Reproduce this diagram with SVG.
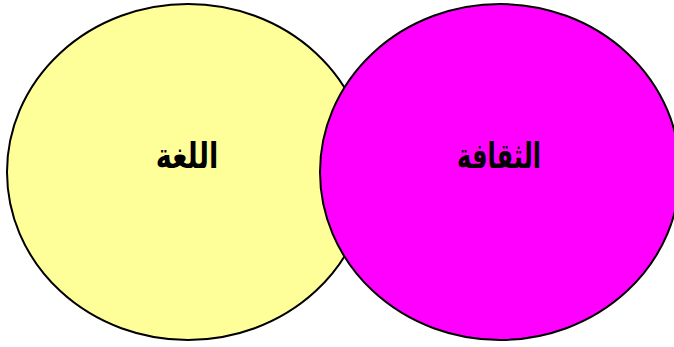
<svg xmlns="http://www.w3.org/2000/svg" width="674" height="347" viewBox="0 0 674 347">
<style>
.c{stroke:#000;stroke-width:2}
.t{font-family:"DejaVu Sans","Noto Sans",sans-serif;font-weight:bold;font-size:28px;fill:#000;text-anchor:middle}
</style>
<rect width="674" height="347" fill="#fff"/>
<g id="lang">
<ellipse class="c" cx="188" cy="172" rx="181" ry="168" fill="#FFFF99"/>
<text class="t" x="0" y="0" direction="rtl" transform="translate(187,168) scale(0.97,1.25)">اللغة</text>
</g>
<g id="culture">
<ellipse class="c" cx="500" cy="172" rx="180" ry="168" fill="#FF00FF"/>
<text class="t" x="0" y="0" direction="rtl" transform="translate(499,168) scale(0.86,1.25)">الثقافة</text>
</g>
<g id="connectors"/>
</svg>
